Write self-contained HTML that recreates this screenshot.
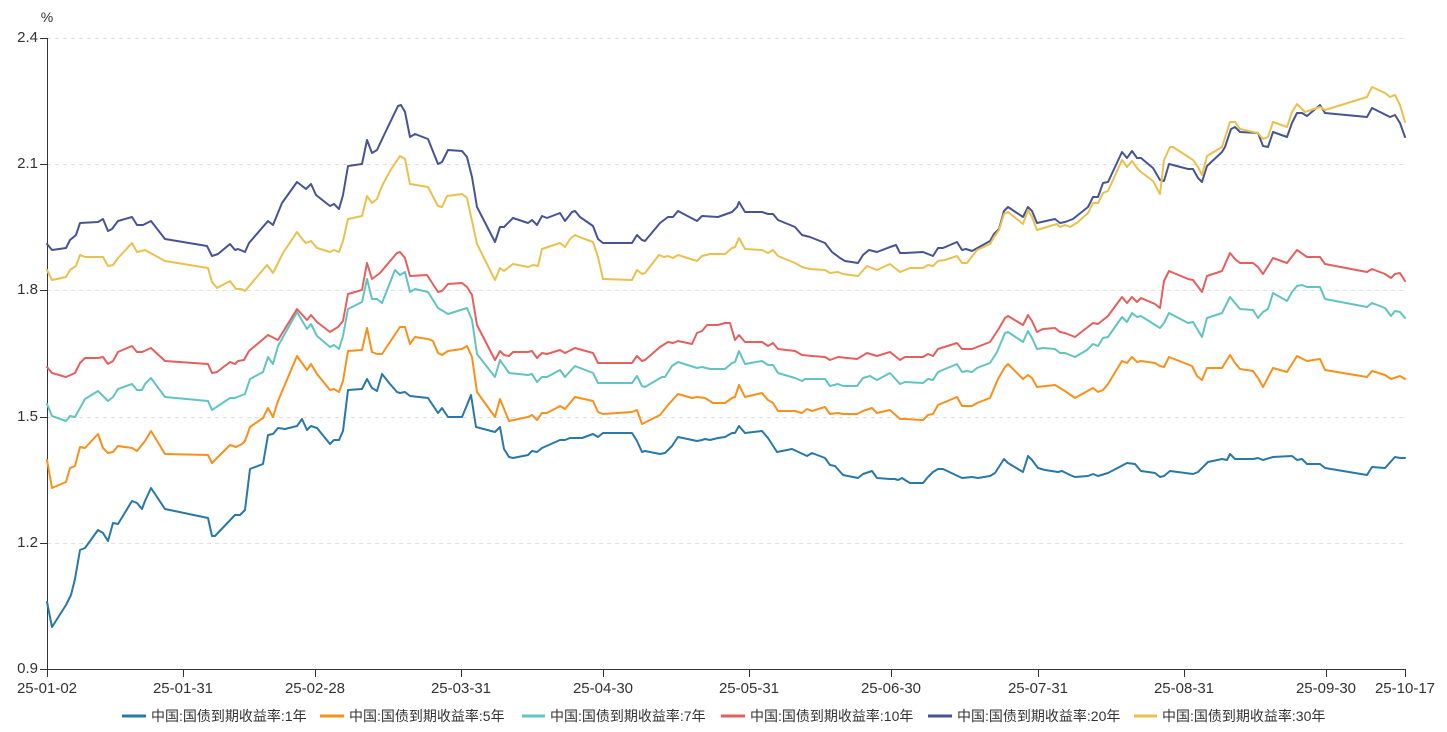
<!DOCTYPE html>
<html><head><meta charset="utf-8"><style>
html,body{margin:0;padding:0;background:#fff;}
svg{display:block;}
text{font-family:"Liberation Sans","Noto Sans CJK SC",sans-serif;fill:#333;}
.g{stroke:#e0e0e0;stroke-width:1;stroke-dasharray:4,4;}
.s{fill:none;stroke-width:2;stroke-linejoin:round;stroke-linecap:round;}
</style></head><body>
<svg width="1447" height="732" viewBox="0 0 1447 732" xmlns="http://www.w3.org/2000/svg">
<rect width="1447" height="732" fill="#fff"/>
<!-- grid -->
<line class="g" x1="47" y1="38.5" x2="1405" y2="38.5"/>
<line class="g" x1="47" y1="164.5" x2="1405" y2="164.5"/>
<line class="g" x1="47" y1="290.5" x2="1405" y2="290.5"/>
<line class="g" x1="47" y1="417.5" x2="1405" y2="417.5"/>
<line class="g" x1="47" y1="543.5" x2="1405" y2="543.5"/>
<!-- axes -->
<g stroke="#333" stroke-width="1">
<line x1="47.5" y1="38" x2="47.5" y2="669"/>
<line x1="47" y1="669.5" x2="1406" y2="669.5"/>
<line x1="40" y1="38.5" x2="47" y2="38.5"/>
<line x1="40" y1="164.5" x2="47" y2="164.5"/>
<line x1="40" y1="290.5" x2="47" y2="290.5"/>
<line x1="40" y1="417.5" x2="47" y2="417.5"/>
<line x1="40" y1="543.5" x2="47" y2="543.5"/>
<line x1="40" y1="669.5" x2="47" y2="669.5"/>
<line x1="47.5" y1="669" x2="47.5" y2="677"/>
<line x1="183.5" y1="669" x2="183.5" y2="677"/>
<line x1="315.5" y1="669" x2="315.5" y2="677"/>
<line x1="461.5" y1="669" x2="461.5" y2="677"/>
<line x1="603.5" y1="669" x2="603.5" y2="677"/>
<line x1="749.5" y1="669" x2="749.5" y2="677"/>
<line x1="891.5" y1="669" x2="891.5" y2="677"/>
<line x1="1038.5" y1="669" x2="1038.5" y2="677"/>
<line x1="1184.5" y1="669" x2="1184.5" y2="677"/>
<line x1="1326.5" y1="669" x2="1326.5" y2="677"/>
<line x1="1405.5" y1="669" x2="1405.5" y2="677"/>
</g>
<!-- y labels -->
<g font-size="15" text-anchor="end">
<text x="38" y="42">2.4</text>
<text x="38" y="168">2.1</text>
<text x="38" y="294">1.8</text>
<text x="38" y="421">1.5</text>
<text x="38" y="547">1.2</text>
<text x="38" y="673">0.9</text>
</g>
<text x="47" y="22" font-size="14" text-anchor="middle">%</text>
<!-- x labels -->
<g font-size="15" text-anchor="middle">
<text x="47" y="693">25-01-02</text>
<text x="183" y="693">25-01-31</text>
<text x="315" y="693">25-02-28</text>
<text x="461" y="693">25-03-31</text>
<text x="603" y="693">25-04-30</text>
<text x="749" y="693">25-05-31</text>
<text x="891" y="693">25-06-30</text>
<text x="1038" y="693">25-07-31</text>
<text x="1184" y="693">25-08-31</text>
<text x="1326" y="693">25-09-30</text>
<text x="1405" y="693">25-10-17</text>
</g>
<!-- series -->
<polyline class="s" stroke="#2878a8" points="47,602 52,627 66,605 71,595 75,579 80,550 85,548 98,530 103,533 108,541 113,523 118,524 132,501 137,503 142,509 145,501 151,488 165,509 208,518 212,536 215,536 235,515 240,515 245,510 250,469 263,464 268,435 273,434 278,428 285,429 297,426 302,419 307,430 311,426 317,428 330,444 334,440 339,440 343,431 348,390 362,389 367,379 372,388 377,391 382,374 390,384 397,392 400,393 405,392 410,396 428,398 438,413 442,408 448,417 462,417 467,405 471,395 476,427 495,432 500,427 504,449 509,457 513,458 528,455 532,451 537,452 542,448 560,440 565,440 570,438 582,438 593,434 598,437 603,433 632,433 637,441 642,452 645,451 660,454 665,453 672,446 678,437 697,441 702,440 705,439 710,440 718,438 725,437 732,433 735,433 739,426 745,433 762,431 768,438 777,452 792,449 807,456 812,453 825,458 830,465 835,466 843,475 858,478 863,474 872,471 877,478 890,479 895,479 898,480 902,478 905,480 910,483 923,483 928,477 933,472 938,469 943,469 962,478 972,477 978,478 990,476 995,473 1004,459 1008,463 1023,472 1028,456 1032,460 1038,468 1045,470 1058,472 1062,471 1070,475 1075,477 1088,476 1093,474 1098,476 1108,473 1127,463 1135,464 1141,471 1155,473 1160,477 1164,476 1170,471 1193,474 1198,472 1202,468 1208,462 1222,459 1227,460 1230,454 1235,459 1253,459 1258,458 1263,460 1273,457 1292,456 1297,460 1302,459 1307,464 1320,464 1325,468 1367,475 1372,467 1385,468 1395,457 1400,458 1405,458"/>
<polyline class="s" stroke="#f8901c" points="47,460 52,488 66,482 70,468 75,466 80,447 85,448 98,434 103,448 108,453 113,452 118,446 132,448 137,451 145,441 151,431 165,454 208,455 212,463 230,445 236,447 242,444 245,441 250,427 263,418 268,408 273,417 278,401 297,356 307,370 311,364 317,374 330,390 334,389 339,392 343,381 348,351 362,350 367,328 372,352 377,354 382,354 390,342 400,327 405,327 410,344 415,337 428,339 433,341 438,353 442,355 448,351 462,349 467,346 472,357 477,392 495,417 500,399 509,421 528,417 532,415 537,420 542,413 547,413 560,406 565,409 575,397 593,401 598,412 603,414 632,412 637,410 642,424 660,415 668,405 678,394 692,398 697,397 705,398 713,403 725,403 732,398 735,397 739,385 745,397 762,393 768,400 773,403 778,411 795,411 802,413 807,409 812,411 825,407 830,414 838,413 843,414 857,414 863,411 872,408 877,413 890,410 900,419 905,419 923,420 928,415 933,414 938,405 957,397 962,406 972,406 977,403 990,398 998,379 1005,367 1008,364 1023,379 1028,375 1032,378 1037,387 1055,385 1065,391 1075,398 1093,388 1098,392 1103,390 1108,384 1122,361 1127,363 1132,357 1137,362 1141,361 1155,363 1160,366 1164,367 1169,357 1192,366 1197,376 1202,380 1207,368 1222,368 1230,355 1235,363 1240,369 1253,371 1258,378 1263,387 1273,368 1287,372 1297,356 1307,361 1320,359 1325,370 1367,377 1372,371 1385,375 1391,379 1400,376 1405,379"/>
<polyline class="s" stroke="#62c3c3" points="47,404 52,416 66,421 70,416 75,417 85,399 98,391 108,401 113,397 118,389 132,384 137,390 142,390 145,384 151,378 165,397 208,401 212,410 218,406 230,398 235,398 245,394 250,379 263,372 268,357 273,364 278,346 297,312 307,329 311,324 317,336 330,347 334,345 339,349 343,336 348,309 362,302 367,279 372,299 377,299 382,303 395,270 400,275 405,272 410,292 415,289 428,292 438,308 448,314 467,308 472,320 477,354 495,377 500,360 509,373 528,375 532,374 537,382 542,377 547,377 560,370 565,377 575,366 593,373 598,383 632,383 637,376 642,386 645,387 662,377 665,377 672,366 678,362 697,368 702,367 710,369 718,369 725,369 732,363 735,362 739,351 745,364 762,361 768,365 773,365 778,373 795,378 802,381 805,379 825,379 830,386 838,384 843,386 857,386 863,378 870,376 877,380 890,373 900,384 905,382 923,383 928,379 933,380 938,372 957,364 962,372 967,371 972,372 977,368 990,363 997,352 1005,333 1008,332 1023,342 1028,331 1032,338 1037,349 1043,348 1055,349 1060,353 1065,353 1075,357 1087,350 1093,344 1098,346 1103,338 1108,337 1122,317 1127,322 1132,313 1137,317 1141,316 1160,328 1164,323 1169,313 1188,323 1193,322 1202,337 1207,318 1222,313 1230,297 1240,309 1253,310 1258,318 1263,312 1268,309 1273,293 1287,301 1292,292 1297,286 1302,285 1307,287 1320,287 1325,299 1367,307 1372,303 1385,308 1391,316 1395,311 1400,312 1405,318"/>
<polyline class="s" stroke="#e3605f" points="47,367 52,373 66,377 75,373 80,363 85,358 98,358 103,357 108,364 113,361 118,352 132,346 137,352 142,352 151,348 165,361 208,364 212,373 217,372 230,362 235,364 238,361 244,360 249,351 268,335 278,340 297,309 307,320 311,315 317,322 330,332 338,327 343,321 348,294 362,290 367,263 372,279 380,273 397,253 400,252 405,258 410,276 427,275 438,292 442,291 448,284 462,283 467,287 472,295 477,325 495,360 500,351 504,355 509,356 513,352 528,352 532,351 537,358 542,353 547,354 560,350 565,353 575,348 593,353 598,363 632,363 637,356 642,361 645,360 660,347 668,342 673,343 678,341 692,344 697,333 702,331 707,325 718,325 725,323 730,323 735,340 739,335 745,342 762,342 768,346 773,343 778,349 795,351 802,355 812,356 825,357 830,360 838,357 857,359 867,353 877,356 890,352 900,360 905,357 923,357 928,354 933,356 938,349 957,343 962,349 972,349 990,342 998,330 1005,318 1008,316 1023,325 1028,315 1032,321 1037,332 1043,329 1055,328 1060,332 1065,333 1075,337 1093,323 1098,324 1108,316 1122,297 1127,303 1132,297 1137,302 1141,298 1155,304 1160,308 1164,281 1169,271 1188,279 1193,280 1202,292 1207,276 1222,271 1230,253 1235,259 1240,263 1253,263 1258,267 1263,274 1273,258 1287,263 1297,250 1307,257 1320,257 1325,264 1367,272 1372,269 1385,274 1391,278 1395,274 1400,273 1405,281"/>
<polyline class="s" stroke="#475493" points="47,244 52,250 66,248 70,240 76,235 80,223 98,222 103,219 108,231 112,229 118,221 132,217 137,225 143,225 151,221 165,239 207,246 212,256 218,254 230,244 235,250 238,249 245,252 249,243 268,221 273,225 282,203 297,182 306,189 311,184 316,195 330,206 334,204 339,209 343,195 348,166 362,164 367,140 372,153 377,150 385,133 398,106 401,105 405,112 410,137 415,134 428,139 438,164 442,162 448,150 462,151 467,157 472,177 477,207 495,242 500,227 504,227 513,218 528,223 532,220 537,225 542,216 547,218 560,213 565,221 572,212 575,211 580,217 593,226 598,239 603,243 632,243 637,235 642,240 645,241 660,223 668,217 673,217 678,211 697,221 702,216 718,217 732,212 737,207 739,202 745,212 762,212 768,214 773,214 778,220 795,227 802,235 810,237 825,243 832,252 840,258 845,261 858,263 863,255 869,250 877,252 890,247 896,245 900,253 905,253 923,252 933,256 938,248 943,248 957,242 962,250 966,249 972,251 990,241 994,234 999,229 1004,211 1008,207 1023,217 1028,207 1032,211 1037,223 1055,219 1060,223 1065,222 1073,219 1088,207 1093,197 1098,197 1103,183 1108,182 1122,152 1127,158 1132,151 1137,158 1141,158 1153,168 1160,180 1164,181 1169,164 1188,169 1193,169 1198,178 1202,182 1207,166 1222,152 1225,147 1231,129 1235,127 1240,132 1258,133 1263,146 1268,147 1273,132 1287,137 1292,123 1297,113 1302,113 1307,116 1320,105 1325,113 1367,117 1372,108 1390,117 1395,115 1400,123 1405,137"/>
<polyline class="s" stroke="#e8c14f" points="47,270 52,280 66,277 70,270 76,266 80,255 85,257 103,257 108,266 113,265 118,258 132,243 137,252 145,250 165,261 208,268 212,282 217,288 230,281 236,289 241,289 245,291 267,265 273,273 283,253 297,232 303,240 306,243 311,241 317,248 330,252 334,250 339,252 343,241 348,219 362,216 367,196 372,203 377,199 382,186 390,171 400,156 405,159 410,184 428,187 438,206 442,207 447,196 462,194 467,198 477,244 495,280 500,268 504,271 513,264 528,267 533,265 538,266 542,249 560,243 565,247 570,239 575,235 582,238 593,242 598,257 603,279 632,280 637,270 642,274 645,273 659,255 664,257 668,256 673,258 678,255 697,261 702,256 710,254 718,254 725,254 732,248 735,247 739,238 745,249 762,250 768,253 773,250 778,256 795,263 802,267 810,269 825,270 830,273 838,272 843,274 858,276 867,266 877,270 890,264 900,272 910,268 923,268 928,265 933,266 938,261 945,260 957,256 962,263 967,263 977,250 990,244 994,237 999,230 1004,214 1008,212 1023,224 1028,210 1032,217 1037,230 1050,226 1057,224 1060,227 1065,225 1070,227 1078,222 1088,213 1093,203 1098,203 1103,193 1108,191 1122,160 1127,167 1132,161 1137,168 1141,172 1153,181 1160,194 1164,160 1170,147 1173,147 1193,160 1198,167 1202,175 1207,156 1222,147 1230,122 1235,122 1240,129 1258,133 1263,139 1268,137 1273,122 1287,127 1292,112 1297,104 1305,112 1320,107 1325,110 1367,97 1372,87 1385,93 1390,97 1395,95 1400,105 1405,122"/>
<!-- legend -->
<g stroke-width="3">
<line x1="122" y1="716" x2="146" y2="716" stroke="#2878a8"/>
<line x1="320" y1="716" x2="344" y2="716" stroke="#f8901c"/>
<line x1="522" y1="716" x2="545" y2="716" stroke="#62c3c3"/>
<line x1="721" y1="716" x2="745" y2="716" stroke="#e3605f"/>
<line x1="928" y1="716" x2="952" y2="716" stroke="#475493"/>
<line x1="1134" y1="716" x2="1157" y2="716" stroke="#e8c14f"/>
</g>
<g font-size="14">
<text x="151" y="721">中国:国债到期收益率:1年</text>
<text x="349" y="721">中国:国债到期收益率:5年</text>
<text x="550" y="721">中国:国债到期收益率:7年</text>
<text x="750" y="721">中国:国债到期收益率:10年</text>
<text x="957" y="721">中国:国债到期收益率:20年</text>
<text x="1162" y="721">中国:国债到期收益率:30年</text>
</g>
</svg>
</body></html>
